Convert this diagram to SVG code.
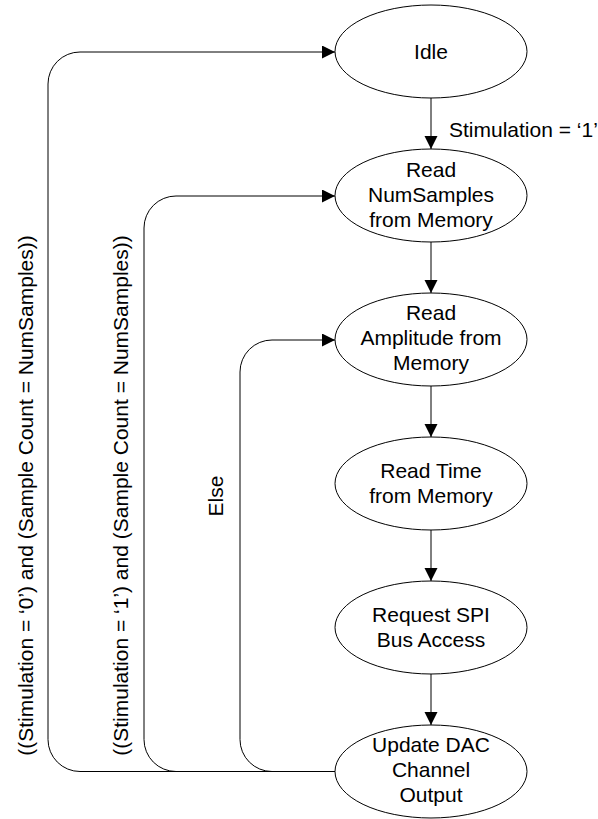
<svg xmlns="http://www.w3.org/2000/svg" width="598" height="819" viewBox="0 0 598 819">
  <style>
    .state { fill: #ffffff; stroke: #000000; stroke-width: 1; }
    .label { font-family: "Liberation Sans", Arial, sans-serif; font-size: 21px; fill: #000000; }
    .node-text { text-anchor: middle; }
    .edge { fill: none; stroke: #000000; stroke-width: 1; marker-end: url(#arrow); }
    .loop { fill: none; stroke: #000000; stroke-width: 1; }
  </style>
  <defs>
    <marker id="arrow" markerUnits="userSpaceOnUse" markerWidth="14" markerHeight="14" refX="13" refY="6.5" orient="auto">
      <path d="M0,0 L13,6.5 L0,13 Z" fill="#000000"/>
    </marker>
  </defs>
  <rect width="598" height="819" fill="#ffffff"/>

  <!-- transitions -->
  <g id="connectors">
    <path class="edge" d="M431,98 V149"/>
    <path class="edge" d="M431,242 V293"/>
    <path class="edge" d="M431,386 V437"/>
    <path class="edge" d="M431,530 V581"/>
    <path class="edge" d="M431,674 V725"/>
    <!-- return paths from the output state -->
    <path class="loop edge" d="M335,771.5 H80 A32,32 0 0 1 48,739.5 V84 A32,32 0 0 1 80,52 H335"/>
    <path class="loop edge" d="M335,771.5 H176 A32,32 0 0 1 144,739.5 V228 A32,32 0 0 1 176,196 H335"/>
    <path class="loop edge" d="M335,771.5 H272 A32,32 0 0 1 240,739.5 V372 A32,32 0 0 1 272,340 H335"/>
    <text class="label" x="449" y="137">Stimulation = ‘1’</text>
    <text class="label node-text" transform="translate(33,495.5) rotate(-90)">((Stimulation = ‘0’) and (Sample Count = NumSamples))</text>
    <text class="label node-text" transform="translate(128,495.5) rotate(-90)">((Stimulation = ‘1’) and (Sample Count = NumSamples))</text>
    <text class="label node-text" transform="translate(223,496) rotate(-90)">Else</text>
  </g>

  <g id="idle">
    <ellipse class="state" cx="431" cy="51.5" rx="96" ry="46.5"/>
    <text class="label node-text" x="431" y="59">Idle</text>
  </g>

  <g id="read-numsamples">
    <ellipse class="state" cx="431" cy="195.5" rx="96" ry="46.5"/>
    <text class="label node-text" x="431" y="177">Read</text>
    <text class="label node-text" x="431" y="202">NumSamples</text>
    <text class="label node-text" x="431" y="227">from Memory</text>
  </g>

  <g id="read-amplitude">
    <ellipse class="state" cx="431" cy="339.5" rx="96" ry="46.5"/>
    <text class="label node-text" x="431" y="320">Read</text>
    <text class="label node-text" x="431" y="345">Amplitude from</text>
    <text class="label node-text" x="431" y="370">Memory</text>
  </g>

  <g id="read-time">
    <ellipse class="state" cx="431" cy="483.5" rx="96" ry="46.5"/>
    <text class="label node-text" x="431" y="477.5">Read Time</text>
    <text class="label node-text" x="431" y="502.5">from Memory</text>
  </g>

  <g id="request-spi">
    <ellipse class="state" cx="431" cy="627.5" rx="96" ry="46.5"/>
    <text class="label node-text" x="431" y="621.5">Request SPI</text>
    <text class="label node-text" x="431" y="646.5">Bus Access</text>
  </g>

  <g id="update-dac">
    <ellipse class="state" cx="431" cy="771.5" rx="96" ry="46.5"/>
    <text class="label node-text" x="431" y="752">Update DAC</text>
    <text class="label node-text" x="431" y="777">Channel</text>
    <text class="label node-text" x="431" y="802">Output</text>
  </g>
</svg>
